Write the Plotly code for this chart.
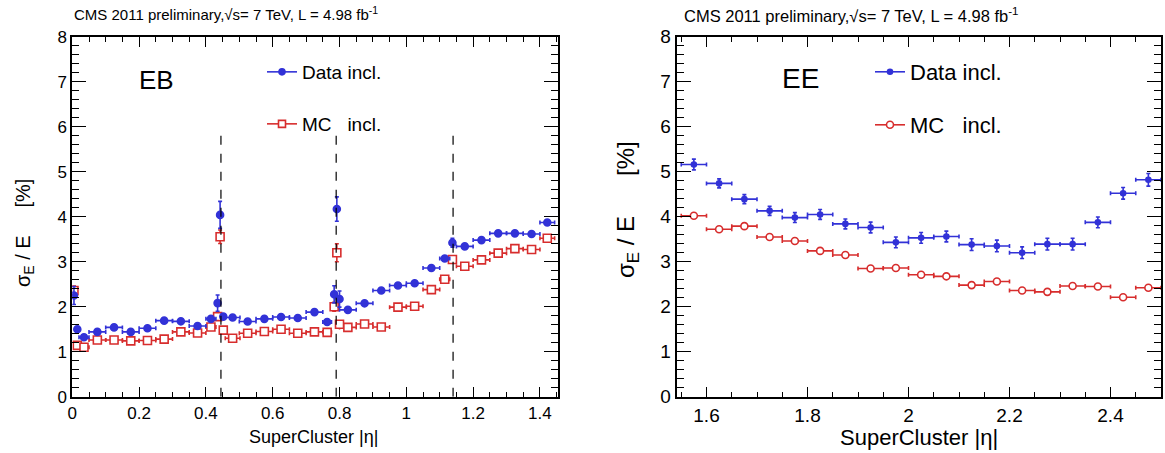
import plotly.graph_objects as go

# ---------------- data ----------------
eb_eta = [0.005, 0.015, 0.035, 0.075, 0.125, 0.175, 0.225, 0.275, 0.325, 0.375,
          0.415, 0.435, 0.4425, 0.452, 0.48, 0.525, 0.575, 0.625, 0.675, 0.725,
          0.763, 0.784, 0.792, 0.80, 0.825, 0.875, 0.925, 0.975, 1.025, 1.075,
          1.115, 1.138, 1.175, 1.225, 1.275, 1.325, 1.375, 1.422]
eb_halfwidth = [0.005, 0.005, 0.015, 0.025, 0.025, 0.025, 0.025, 0.025, 0.025, 0.025,
                0.015, 0.005, 0.0025, 0.005, 0.022, 0.025, 0.025, 0.025, 0.025, 0.025,
                0.013, 0.005, 0.003, 0.005, 0.025, 0.025, 0.025, 0.025, 0.025, 0.025,
                0.015, 0.005, 0.025, 0.025, 0.025, 0.025, 0.025, 0.022]
eb_data = [2.25, 1.50, 1.32, 1.44, 1.54, 1.44, 1.52, 1.69, 1.675, 1.57,
           1.73, 2.08, 4.04, 1.78, 1.76, 1.67, 1.73, 1.77, 1.75, 1.88,
           1.66, 2.275, 4.17, 2.17, 1.93, 2.075, 2.36, 2.47, 2.52, 2.86,
           3.07, 3.42, 3.34, 3.48, 3.63, 3.63, 3.615, 3.87]
eb_data_err = [0.20, 0.06, 0.04, 0.04, 0.04, 0.04, 0.04, 0.04, 0.04, 0.04,
               0.05, 0.18, 0.30, 0.06, 0.04, 0.04, 0.04, 0.04, 0.04, 0.04,
               0.05, 0.19, 0.27, 0.18, 0.04, 0.04, 0.04, 0.04, 0.04, 0.04,
               0.05, 0.10, 0.04, 0.04, 0.04, 0.04, 0.04, 0.06]
eb_mc = [2.36, 1.14, 1.10, 1.26, 1.26, 1.24, 1.25, 1.28, 1.44, 1.415,
         1.55, 1.78, 3.556, 1.48, 1.30, 1.41, 1.45, 1.50, 1.41, 1.44,
         1.43, 2.00, 3.20, 1.61, 1.54, 1.615, 1.55, 1.99, 2.01, 2.38,
         2.61, 3.05, 2.90, 3.04, 3.19, 3.29, 3.27, 3.52]
eb_mc_err = [0.10, 0.03, 0.02, 0.02, 0.02, 0.02, 0.02, 0.02, 0.02, 0.02,
             0.03, 0.08, 0.15, 0.03, 0.02, 0.02, 0.02, 0.02, 0.02, 0.02,
             0.03, 0.10, 0.20, 0.05, 0.02, 0.02, 0.02, 0.02, 0.02, 0.02,
             0.03, 0.08, 0.02, 0.02, 0.02, 0.02, 0.02, 0.03]
eb_cracks = [0.445, 0.79, 1.14]
crack_top = 6.0

ee_eta = [1.575, 1.625, 1.675, 1.725, 1.775, 1.825, 1.875, 1.925, 1.975, 2.025,
          2.075, 2.125, 2.175, 2.225, 2.275, 2.325, 2.375, 2.425, 2.475]
ee_halfwidth = 0.025
ee_data = [5.16, 4.74, 4.39, 4.13, 3.98, 4.05, 3.84, 3.76, 3.43, 3.53,
           3.56, 3.38, 3.35, 3.20, 3.39, 3.39, 3.875, 4.52, 4.82]
ee_data_err = [0.12, 0.10, 0.10, 0.10, 0.11, 0.11, 0.11, 0.12, 0.12, 0.12,
               0.12, 0.13, 0.13, 0.13, 0.13, 0.13, 0.12, 0.13, 0.14]
ee_mc = [4.02, 3.72, 3.79, 3.55, 3.46, 3.24, 3.15, 2.85, 2.86, 2.71,
         2.675, 2.48, 2.56, 2.36, 2.33, 2.46, 2.45, 2.21, 2.42]
ee_mc_err = [0.05] * 19

title_text = "CMS 2011 preliminary,\u221as= 7 TeV, L = 4.98 fb<sup>-1</sup>"
ylabel_eb = "\u03c3<sub>E</sub> / E     [%]"
ylabel_ee = "\u03c3<sub>E</sub> / E      [%]"
xlabel = "SuperCluster |\u03b7|"

BLUE = "rgb(50,50,215)"
RED = "rgb(215,45,45)"
NARROW = "Liberation Sans Narrow, Arial Narrow, Liberation Sans, sans-serif"
SANS = "Liberation Sans, Arial, sans-serif"

W, H = 1165, 453
def px(v):  # pixel x -> paper
    return v / W
def py(v):  # pixel y (from top) -> paper
    return 1 - v / H

fig = go.Figure()

def add_series(x, y, ex, ey, color, symbol, size, xa, ya, fill):
    fig.add_trace(go.Scatter(
        x=x, y=y, mode="markers", xaxis=xa, yaxis=ya, showlegend=False,
        marker=dict(symbol=symbol, size=size, color=fill,
                    line=dict(color=color, width=1.6)),
        error_x=dict(type="data", array=ex if isinstance(ex, list) else [ex] * len(x),
                     color=color, thickness=1.6, width=2),
        error_y=dict(type="data", array=ey, color=color, thickness=1.6, width=2),
    ))

# EB
add_series(eb_eta, eb_mc, eb_halfwidth, eb_mc_err, RED, "square", 8, "x", "y", "white")
add_series(eb_eta, eb_data, eb_halfwidth, eb_data_err, BLUE, "circle", 7, "x", "y", BLUE)
# EE
add_series(ee_eta, ee_mc, ee_halfwidth, ee_mc_err, RED, "circle", 7, "x2", "y2", "white")
add_series(ee_eta, ee_data, ee_halfwidth, ee_data_err, BLUE, "circle", 5, "x2", "y2", BLUE)

# crack lines
for c in eb_cracks:
    fig.add_shape(type="line", xref="x", yref="y", x0=c, x1=c, y0=0, y1=crack_top,
                  line=dict(color="black", width=1.2, dash="dash"))

# legend-only traces
legend_items = [
    ("Data incl.", BLUE, "circle", 6, BLUE, "legend"),
    ("MC   incl.", RED, "square", 7, "white", "legend2"),
    ("Data incl.", BLUE, "circle", 5, BLUE, "legend3"),
    ("MC   incl.", RED, "circle", 7, "white", "legend4"),
]
for name, col, sym, sz, fill, lg in legend_items:
    fig.add_trace(go.Scatter(x=[None], y=[None], mode="lines+markers", name=name,
                             legend=lg, xaxis="x", yaxis="y",
                             line=dict(color=col, width=1.6),
                             marker=dict(symbol=sym, size=sz, color=fill,
                                         line=dict(color=col, width=1.6))))

def axis_common(font, size):
    return dict(showline=True, linecolor="black", linewidth=2, mirror="allticks",
                ticks="inside", tickcolor="black", tickwidth=1, showgrid=False,
                zeroline=False, automargin=False,
                tickfont=dict(family=font, size=size, color="black"))

yd = [py(396.7), py(36.7)]
xa1 = axis_common(NARROW, 17)
xa1.update(domain=[px(72.3), px(558.3)], range=[0, 1.455], dtick=0.2, tick0=0,
           ticklen=10, minor=dict(ticks="inside", dtick=0.05, ticklen=5, tickcolor="black"),
           anchor="y")
ya1 = axis_common(NARROW, 17)
ya1.update(domain=yd, range=[0, 8], dtick=1, tick0=0, ticklen=14,
           minor=dict(ticks="inside", dtick=0.2, ticklen=7, tickcolor="black"), anchor="x")
xa2 = axis_common(SANS, 19)
xa2.update(domain=[px(676.7), px(1161)], range=[1.541, 2.5], dtick=0.2, tick0=0,
           ticklen=10, minor=dict(ticks="inside", dtick=0.05, ticklen=5, tickcolor="black"),
           anchor="y2")
ya2 = axis_common(SANS, 19)
ya2.update(domain=yd, range=[0, 8], dtick=1, tick0=0, ticklen=14,
           minor=dict(ticks="inside", dtick=0.2, ticklen=7, tickcolor="black"), anchor="x2")

def legend_at(xpix, ypix, font, size):
    return dict(x=px(xpix), y=py(ypix), xanchor="left", yanchor="middle",
                bgcolor="rgba(0,0,0,0)", font=dict(family=font, size=size, color="black"),
                itemwidth=30)

def note(text, xpix, ypix, font, size, xanchor="center", angle=0):
    return dict(text=text, xref="paper", yref="paper", x=px(xpix), y=py(ypix),
                xanchor=xanchor, yanchor="middle", showarrow=False, textangle=angle,
                font=dict(family=font, size=size, color="black"))

annotations = [
    note(title_text, 72, 13, NARROW, 15, xanchor="left"),
    note(title_text, 682, 15, SANS, 16.5, xanchor="left"),
    note("EB", 156, 80, NARROW, 26),
    note("EE", 801, 78, SANS, 28),
    note(ylabel_eb, 25, 233, NARROW, 20, angle=-90),
    note(ylabel_ee, 628, 210, SANS, 24, angle=-90),
    note(xlabel, 313, 437, NARROW, 18),
    note(xlabel, 919, 437, SANS, 22),
]

fig.update_layout(
    template="none",
    width=W, height=H, margin=dict(l=0, r=0, t=0, b=0, autoexpand=False),
    paper_bgcolor="white", plot_bgcolor="white",
    xaxis=xa1, yaxis=ya1, xaxis2=xa2, yaxis2=ya2,
    legend=legend_at(262, 72, NARROW, 19),
    legend2=legend_at(262, 124, NARROW, 19),
    legend3=legend_at(870, 72, SANS, 22),
    legend4=legend_at(870, 125, SANS, 22),
    annotations=annotations,
)

fig.write_html(
    "out.html",
    config={"displayModeBar": False},
    post_script="document.body.style.margin='0';document.body.style.overflow='hidden';",
)
